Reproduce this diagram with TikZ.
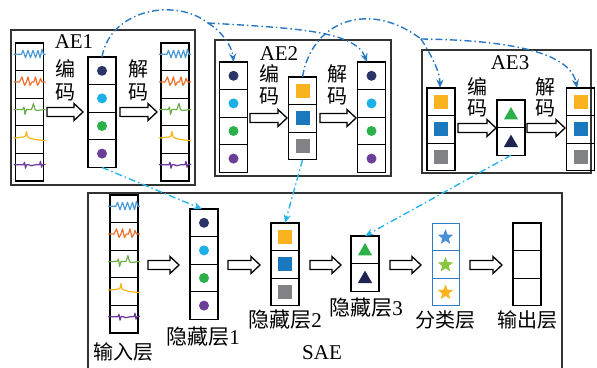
\documentclass[tikz,border=0pt]{standalone}
\usepackage{fontspec}
\setmainfont{Liberation Serif}
\newfontfamily\cjk{Noto Sans CJK SC}
\usetikzlibrary{shapes.geometric,arrows.meta,calc}
\definecolor{navy}{HTML}{2B3467}
\definecolor{skyc}{HTML}{1CB0E8}
\definecolor{grn}{HTML}{2BB04A}
\definecolor{purp}{HTML}{6B3E98}
\definecolor{sqor}{HTML}{FBB21F}
\definecolor{sqbl}{HTML}{1B78BE}
\definecolor{sqgr}{HTML}{808285}
\definecolor{tridk}{HTML}{1E2350}
\definecolor{linkb}{HTML}{2A78C2}
\definecolor{linkc}{HTML}{27B5EA}
\definecolor{wblue}{HTML}{4A9AD6}
\definecolor{worange}{HTML}{F26F2A}
\definecolor{wgreen}{HTML}{6BAE45}
\definecolor{wyellow}{HTML}{FDB515}
\definecolor{wpurple}{HTML}{6D3A9C}
\definecolor{stbl}{HTML}{4A90D9}
\definecolor{stgr}{HTML}{8CC63F}
\definecolor{clsb}{HTML}{2E7CC3}
\definecolor{frm}{HTML}{333333}
\tikzset{
  cell/.style={draw=black, line width=1.3pt, minimum width=28pt, minimum height=27.6pt, inner sep=0pt, outer sep=0pt},
  ccell/.style={draw=clsb, line width=1pt, minimum width=27pt, minimum height=27.6pt, inner sep=0pt, outer sep=0pt},
  frame/.style={draw=frm, line width=1.1pt},
  dotn/.style={circle, inner sep=0pt, minimum size=10pt},
  sqn/.style={rectangle, inner sep=0pt, minimum size=14pt},
  trin/.style={regular polygon, regular polygon sides=3, inner sep=0pt, minimum size=16.5pt},
  stt/.style={star, star points=5, star point ratio=2.3, inner sep=0pt, minimum size=16pt},
  lbl/.style={font=\fontsize{21}{21}\selectfont, inner sep=0pt},
  cn/.style={font=\cjk\fontsize{20}{20}\selectfont, inner sep=0pt},
  blk/.style={draw=black, fill=white, line width=1.3pt, line join=miter},
  wave/.style={line width=1.2pt, line join=round},
  linka/.style={draw=linkb, line width=1.4pt, dash pattern=on 7pt off 3pt on 1.5pt off 3pt},
  linkc/.style={draw=linkc, line width=1.4pt, dash pattern=on 7pt off 3pt on 1.5pt off 3pt},
  tip/.style={-{Stealth[length=8.5pt,width=7pt]}}
}
\newcommand\colm[5]{%
  \foreach \i in {1,...,#4}{\node[#5] (#1-\i) at (#2,{#3+13.8+27.6*(\i-1)}) {};}}
\newcommand\blkarr[3]{%
  \draw[blk] (#1,#3-4.5) -- (#2-9,#3-4.5) -- (#2-9,#3-8.5) -- (#2,#3) -- (#2-9,#3+8.5) -- (#2-9,#3+4.5) -- (#1,#3+4.5) -- cycle;}
\newcommand\wv[3]{\begin{scope}[shift={(#1.west)}]\draw[wave,#2] plot coordinates {#3};\end{scope}}
\newcommand\allwaves[1]{%
  \wv{#1-1}{wblue}{(-2,-2.5) (6,-2.5) (7.5,-6.5) (10,1) (12.5,-6.5) (15,1) (17.5,-6.5) (20,1) (22.5,-6.5) (24.5,1) (26.5,-7.5) (28,-2.5) (30,-2.5)}
  \wv{#1-2}{worange}{(-2,-2.5) (4,-2.5) (6.5,-7.5) (9,1) (11,-2.5) (12.5,-7.5) (14.5,1) (16.5,-2.5) (18.5,-2.5) (20,-7.5) (22,1) (24,-2.5) (25,-6) (26.5,-2.5) (30,-2.5)}
  \wv{#1-3}{wgreen}{(-2,-2.5) (7,-2.5) (8.5,-5) (9.5,2.5) (11,-2.5) (16,-2.5) (18,-8.5) (19.5,-2.5) (21,-1.5) (30,-2.5)}
  \wv{#1-4}{wyellow}{(-2,-1.5) (8,-2.5) (10,-3.5) (11,-8) (12,-3) (14,-1.5) (20,0) (30,1)}
  \wv{#1-5}{wpurple}{(-2,-2.5) (8,-2.5) (9,-5) (10,1) (11,-2.5) (13,-2.5) (16,-1.5) (20,-2.5) (24,-2.5) (25,-6) (26,0) (27,-2.5) (30,-3)}}
\newcommand\filldots[1]{\foreach \c/\i in {navy/1,skyc/2,grn/3,purp/4}{\node[dotn,fill=\c] (#1-d\i) at (#1-\i) {};}}
\newcommand\fillsqs[1]{\foreach \c/\i in {sqor/1,sqbl/2,sqgr/3}{\node[sqn,fill=\c] (#1-s\i) at (#1-\i) {};}}
\newcommand\filltris[1]{\foreach \c/\i in {grn/1,tridk/2}{\node[trin,fill=\c] (#1-t\i) at ($(#1-\i)+(0,1.5)$) {};}}
\begin{document}
\begin{tikzpicture}[x=1pt,y=-1pt]
\useasboundingbox (0,0) rectangle (597,367);
% frames
\draw[frame] (11,30) rectangle (195,185);
\draw[frame] (215,40) rectangle (391,176);
\draw[frame] (422,50) rectangle (591,173);
\draw[frame] (88,372) -- (88,193) -- (562,193) -- (562,372);
% AE1
\colm{ae1i}{29.5}{43}{5}{cell}
\colm{ae1h}{102}{57}{4}{cell}
\colm{ae1o}{175}{43}{5}{cell}
\allwaves{ae1i}\allwaves{ae1o}\filldots{ae1h}
\node[lbl] (t-ae1) at (74,42) {AE1};
\node[cn] (ae1-e1) at (65,69) {编};
\node[cn] (ae1-e2) at (65,92) {码};
\node[cn] (ae1-d1) at (138,69) {解};
\node[cn] (ae1-d2) at (138,92) {码};
\blkarr{47}{83}{112}
\blkarr{120}{157}{112}
% AE2
\colm{ae2i}{233.5}{62}{4}{cell}
\colm{ae2h}{302.5}{77}{3}{cell}
\colm{ae2o}{371.5}{62}{4}{cell}
\filldots{ae2i}\filldots{ae2o}\fillsqs{ae2h}
\node[lbl] (t-ae2) at (279,54) {AE2};
\node[cn] (ae2-e1) at (269,74) {编};
\node[cn] (ae2-e2) at (269,96) {码};
\node[cn] (ae2-d1) at (337,74) {解};
\node[cn] (ae2-d2) at (337,96) {码};
\blkarr{250}{287}{118}
\blkarr{320}{356}{118}
% AE3
\colm{ae3i}{441}{88}{3}{cell}
\colm{ae3h}{511}{100}{2}{cell}
\colm{ae3o}{580.5}{88}{3}{cell}
\fillsqs{ae3i}\fillsqs{ae3o}\filltris{ae3h}
\node[lbl] (t-ae3) at (510,63) {AE3};
\node[cn] (ae3-e1) at (477,87) {编};
\node[cn] (ae3-e2) at (477,108) {码};
\node[cn] (ae3-d1) at (545,87) {解};
\node[cn] (ae3-d2) at (545,108) {码};
\blkarr{458}{496}{128}
\blkarr{527}{565}{128}
% SAE
\colm{si}{124}{195}{5}{cell}
\colm{sh1}{204}{209}{4}{cell}
\colm{sh2}{285}{223}{3}{cell}
\colm{sh3}{365}{236}{2}{cell}
\colm{sc}{445.5}{223}{3}{ccell}
\colm{so}{527}{223}{3}{cell}
\allwaves{si}\filldots{sh1}\fillsqs{sh2}\filltris{sh3}
\foreach \c/\i in {stbl/1,stgr/2,sqor/3}{\node[stt,fill=\c] (sc-st\i) at ($(sc-\i)+(0,0.5)$) {};}
\blkarr{148}{179}{265}
\blkarr{228}{260}{265}
\blkarr{310}{341}{265}
\blkarr{390}{421}{265}
\blkarr{470}{502}{265}
\node[cn] (l-in) at (123,352) {输入层};
\node[lbl] (l-h1) at (203,337) {{\cjk 隐藏层}1};
\node[lbl] (l-h2) at (285,320) {{\cjk 隐藏层}2};
\node[lbl] (l-h3) at (366,308) {{\cjk 隐藏层}3};
\node[cn] (l-cls) at (445,320) {分类层};
\node[cn] (l-out) at (527,320) {输出层};
\node[lbl] (l-sae) at (322,353) {SAE};
% top connectors
\coordinate (s1) at (208,23);
\coordinate (s2) at (421,39);
\draw[linka] (ae1h-1.north) .. controls (110,10) and (175,-3) .. (s1);
\draw[linka,tip] (s1) .. controls (220,30) and (232,45) .. (ae2i-1.north);
\draw[linka,tip] (s1) .. controls (290,28) and (355,30) .. ([xshift=-4.5pt]ae2o-1.north);
\draw[linka] (ae2h-1.north) .. controls (312,20) and (370,0) .. (s2);
\draw[linka,tip] (s2) .. controls (428,50) and (440,70) .. ([xshift=-1pt]ae3i-1.north);
\draw[linka,tip] (s2) .. controls (500,40) and (570,50) .. ([xshift=-3.5pt]ae3o-1.north);
% lower connectors
\draw[linkc,tip] (ae1h-4.south) -- ([xshift=-2pt]sh1-1.north);
\draw[linkc,tip] (ae2h-3.south) -- (sh2-1.north);
\draw[linkc,tip] (ae3h-2.south) -- (sh3-1.north);
\end{tikzpicture}
\end{document}
